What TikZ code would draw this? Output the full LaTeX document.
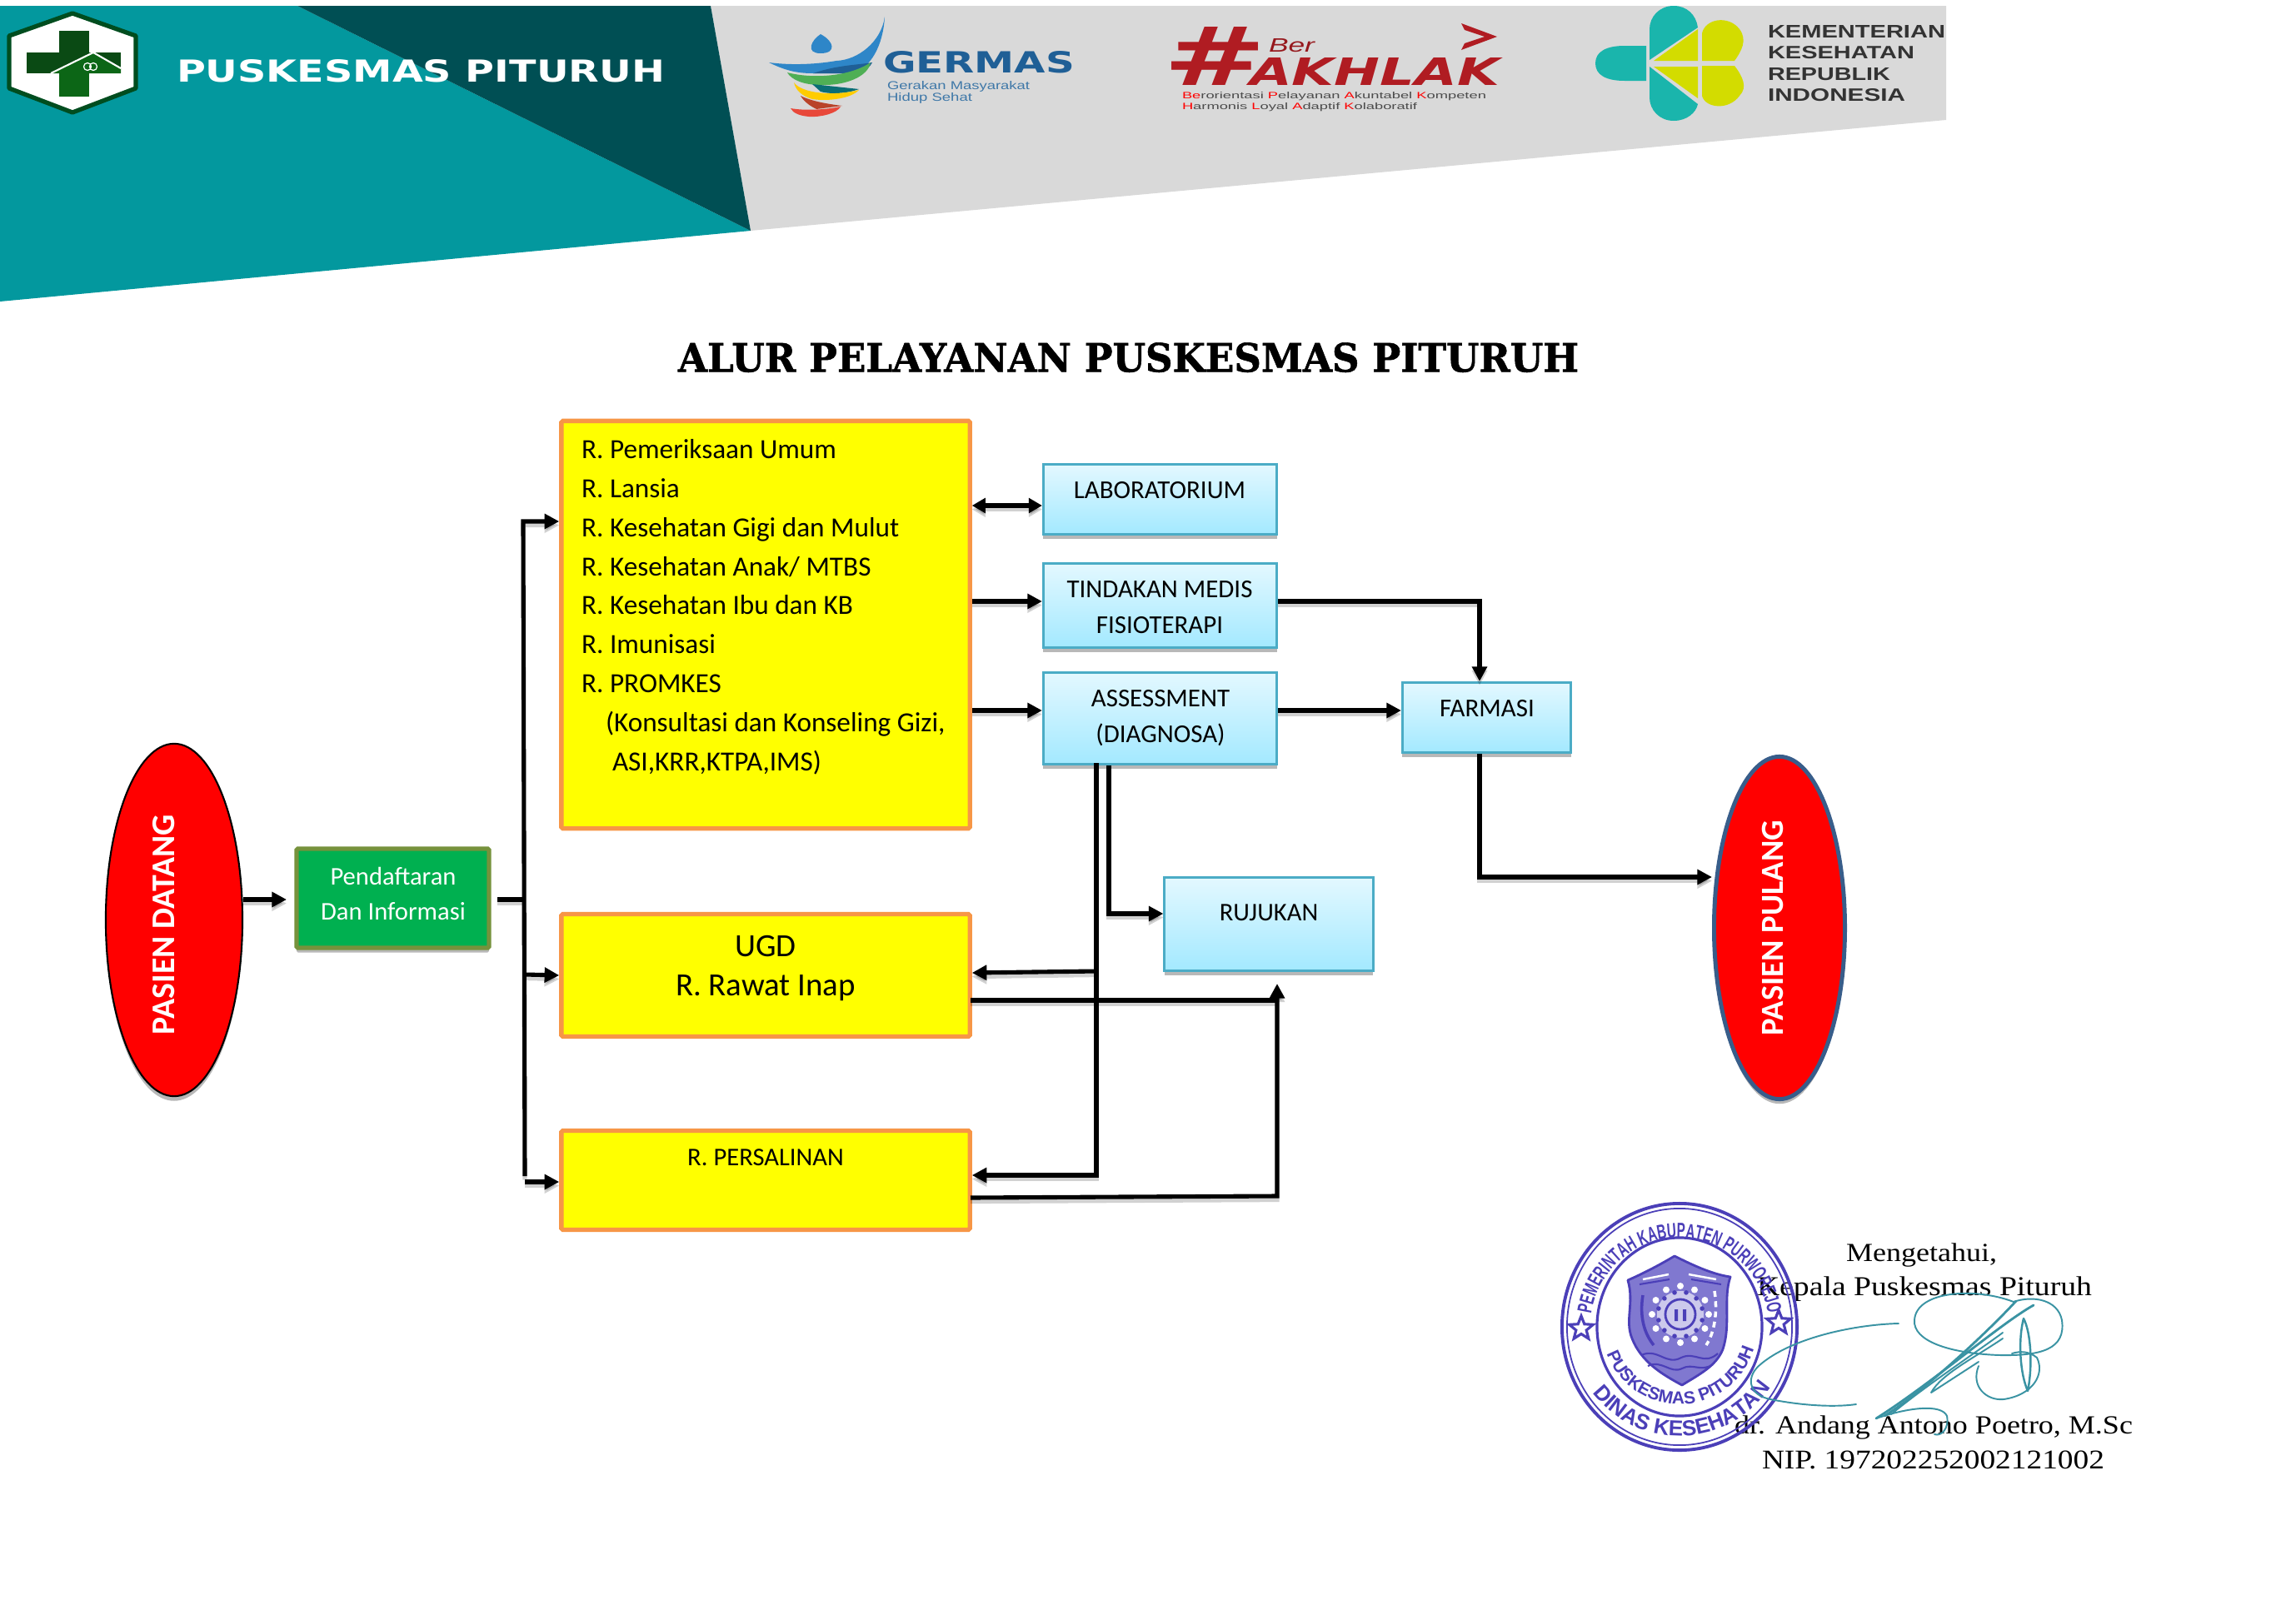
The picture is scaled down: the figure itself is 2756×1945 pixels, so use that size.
\documentclass[tikz,border=0pt]{standalone}
\usepackage{fontspec}
\usepackage{graphicx}
\usetikzlibrary{arrows.meta,calc,shadows,shapes.geometric,decorations.text}
\setmainfont{Carlito}
\newfontfamily\headf{Liberation Sans}
\newfontfamily\heavyf{DejaVu Sans}
\newfontfamily\titlef[BoldFeatures={FakeBold=1.2}]{DejaVu Serif}
\newfontfamily\sigf[FakeStretch=1.15]{Liberation Serif}
\newfontfamily\stampN[FakeStretch=0.62,BoldFeatures={FakeStretch=0.62}]{Liberation Sans}
\newfontfamily\stampW{Liberation Sans}
\newdimen\px \px=0.01cm
\newcommand\fitw[2]{\resizebox{\dimexpr#1\px\relax}{!}{#2}}
\newcommand\fitwh[3]{\resizebox{\dimexpr#1\px\relax}{\dimexpr#2\px\relax}{#3}}
\newcommand\fsz[1]{\fontsize{#1}{#1}\selectfont}
\definecolor{hteal}{HTML}{03989E}
\definecolor{hdark}{HTML}{004F54}
\definecolor{hgray}{HTML}{D9D9D9}
\definecolor{orangeB}{HTML}{F79646}
\definecolor{yellowF}{HTML}{FFFF00}
\definecolor{redF}{HTML}{FF0000}
\definecolor{greenF}{HTML}{00B050}
\definecolor{greenB}{HTML}{76923C}
\definecolor{blueB}{HTML}{4BACC6}
\definecolor{blueT}{HTML}{E3F8FF}
\definecolor{blueM}{HTML}{A3E9FF}
\definecolor{pulB}{HTML}{385D8A}
\definecolor{lgD}{HTML}{004D1F}
\definecolor{lgA}{HTML}{0A4A14}
\definecolor{lgB}{HTML}{0C6616}
\definecolor{gblue}{HTML}{1F5F96}
\definecolor{gblueL}{HTML}{2E86C8}
\definecolor{gtext}{HTML}{3F78A8}
\definecolor{ggreen}{HTML}{4FAF55}
\definecolor{gteal}{HTML}{0B6E75}
\definecolor{gyel}{HTML}{FFCC00}
\definecolor{gbrown}{HTML}{B9432A}
\definecolor{gred}{HTML}{E8483A}
\definecolor{ared}{HTML}{B01C22}
\definecolor{kteal}{HTML}{1AB5AC}
\definecolor{klime}{HTML}{D3DC00}
\definecolor{ktext}{HTML}{333333}
\definecolor{stampc}{HTML}{4B3FB8}
\definecolor{stampf}{HTML}{8078D0}
\definecolor{signc}{HTML}{3A93A3}
\tikzset{
  lbl/.style={inner sep=0pt,outer sep=0pt},
  softshadow/.style={drop shadow={shadow xshift=0pt,shadow yshift=-1.6pt,opacity=.28,fill=black}},
  ybox/.style={rectangle,draw=orangeB,fill=yellowF,line width=1.5pt,rounded corners=.5pt},
  gbox/.style={rectangle,draw=greenB,fill=greenF,line width=1.5pt,rounded corners=.5pt,softshadow},
  bbox/.style={rectangle,draw=blueB,top color=blueT,bottom color=blueM,line width=.85pt,softshadow},
  conn/.style={draw=black,line width=1.45pt,line join=miter,
    preaction={draw=black,opacity=.18,line width=1.45pt,transform canvas={yshift=-1.3pt}}},
  arr/.style={conn,-{Triangle[length=5pt,width=5pt]}},
  darr/.style={conn,{Triangle[length=4.6pt,width=5pt]}-{Triangle[length=4.6pt,width=5pt]}},
  txt/.style={lbl,anchor=base,text=black},
  ltxt/.style={lbl,anchor=base west,text=black,font=\fsz{9.45}},
  sign/.style={draw=signc,line width=.55pt,line cap=round,line join=round},
}
\begin{document}
\begin{tikzpicture}[x=0.01cm,y=-0.01cm]
\useasboundingbox (0,0) rectangle (2756,1945);
\fill[white] (0,0) rectangle (2756,1945);
% header
\fill[hgray] (853,7)--(2336,7)--(2336,144)--(901,277)--cycle;
\fill[hteal] (0,7)--(357,7)--(901,277)--(0,362)--cycle;
\fill[hdark] (357,7)--(853,7)--(901,277)--cycle;
% puskesmas logo
\draw[fill=white,draw=lgD,line width=1.5pt,line join=round] (87,16)--(163,43)--(163,106)--(87,135)--(11,106)--(11,43)--cycle;
\fill[lgA] (71,37) rectangle (107,63);
\fill[lgA] (32,63) rectangle (145,88);
\fill[lgB] (71,88) rectangle (107,116);
\fill[lgB] (61,88)--(112,63)--(145,82)--(145,88)--cycle;
\draw[white,line width=.6pt] (61,88)--(112,63)--(145,82);
\draw[white,line width=.35pt] (105,80) circle (.045cm) (112,80) circle (.045cm);
\node[lbl,anchor=south west,text=white] (hname) at (212,99) {\fitwh{586}{27}{\heavyf\bfseries PUSKESMAS PITURUH}};
% germas logo
\fill[gblueL] (1062,20) .. controls (1058,50) and (1030,72) .. (1004,73) .. controls (975,78) and (945,78) .. (923,75) .. controls (945,86) and (960,88) .. (976,88) -- (1023,88) .. controls (1045,82) and (1060,55) .. (1062,20) -- cycle;
\fill[gblue] (976,88) .. controls (1005,78) and (1030,78) .. (1047,75) .. controls (1042,85) and (1030,88) .. (1023,88) -- cycle;
\fill[gblueL] (985,41) .. controls (974,48) and (966,64) .. (985,64) .. controls (1004,64) and (1002,50) .. (985,41) -- cycle;
\fill[ggreen] (945,87) .. controls (975,95) and (1020,92) .. (1045,75) .. controls (1042,92) and (1015,103) .. (985,102) .. controls (965,102) and (950,96) .. (945,87) -- cycle;
\fill[gteal] (975,101) -- (1031,107) .. controls (1015,113) and (995,113) .. (985,110) -- cycle;
\fill[gyel] (953,99) .. controls (962,112) and (1000,116) .. (1031,108) .. controls (1022,118) and (995,122) .. (975,119) .. controls (962,115) and (955,108) .. (953,99) -- cycle;
\fill[gbrown] (961,115) .. controls (975,122) and (995,125) .. (1011,127) -- (980,131) .. controls (972,127) and (965,122) .. (961,115) -- cycle;
\fill[gred] (949,130) .. controls (965,133) and (990,132) .. (1009,128) .. controls (1005,136) and (985,141) .. (971,140) .. controls (960,139) and (952,136) .. (949,130) -- cycle;
\node[lbl,anchor=south west,text=gblue] (germas) at (1060,88) {\fitwh{230}{26}{\heavyf\bfseries GERMAS}};
\node[lbl,anchor=base west,text=gtext] (germasA) at (1065,107) {\fitwh{171}{10}{\headf Gerakan Masyarakat}};
\node[lbl,anchor=base west,text=gtext] (germasB) at (1065,121) {\fitwh{102}{10}{\headf Hidup Sehat}};
% akhlak
\node[lbl,anchor=south west,text=ared] (hash) at (1396,102) {\fitwh{124}{70}{\heavyf\bfseries\#}};
\node[lbl,anchor=south west,text=ared!85!black] (ber) at (1523,63) {\fitwh{55}{16}{\headf\itshape Ber}};
\fill[ared] (1754,28)--(1797,44)--(1754,60)--(1758,52)--(1782,44)--(1758,36)--cycle;
\node[lbl,anchor=south west,text=ared] (akhlak) at (1500,102) {\fitwh{300}{33}{\heavyf\bfseries\itshape AKHLAK}};
\node[lbl,anchor=base west,text=black!70] (akA) at (1419,118) {\fitwh{365}{8}{\headf\textcolor{red}{Be}rorientasi \textcolor{red}{P}elayanan \textcolor{red}{A}kuntabel \textcolor{red}{K}ompeten}};
\node[lbl,anchor=base west,text=black!70] (akB) at (1419,131) {\fitwh{282}{8}{\headf\textcolor{red}{H}armonis \textcolor{red}{L}oyal \textcolor{red}{A}daptif \textcolor{red}{K}olaboratif}};
% kemenkes logo
\fill[kteal] (2009,7) .. controls (1992,7) and (1980,20) .. (1980,35) -- (1980,72) -- (2038,33) .. controls (2036,18) and (2025,7) .. (2009,7) -- cycle;
\fill[kteal] (2009,145) .. controls (1992,145) and (1980,132) .. (1980,117) -- (1980,80) -- (2038,125) .. controls (2036,135) and (2025,145) .. (2009,145) -- cycle;
\fill[kteal] (1976,55) -- (1950,55) .. controls (1928,55) and (1915,62) .. (1915,76) .. controls (1915,90) and (1928,97) .. (1950,97) -- (1976,97) -- cycle;
\fill[klime] (1985,73) -- (2038,35) -- (2038,73) -- cycle;
\fill[klime] (1985,80) -- (2038,80) -- (2038,118) -- cycle;
\fill[klime] (2043,73) -- (2043,40) .. controls (2047,22) and (2075,18) .. (2088,35) .. controls (2098,48) and (2090,62) .. (2082,73) -- cycle;
\fill[klime] (2043,79) -- (2082,79) .. controls (2092,92) and (2098,105) .. (2088,115) .. controls (2075,133) and (2047,130) .. (2043,115) -- cycle;
\node[lbl,anchor=south west,text=ktext] (kemA) at (2122,45) {\fitwh{213}{15}{\headf\bfseries KEMENTERIAN}};
\node[lbl,anchor=south west,text=ktext] (kemB) at (2122,71) {\fitwh{176}{15}{\headf\bfseries KESEHATAN}};
\node[lbl,anchor=south west,text=ktext] (kemC) at (2122,97) {\fitwh{147}{15}{\headf\bfseries REPUBLIK}};
\node[lbl,anchor=south west,text=ktext] (kemD) at (2122,122) {\fitwh{165}{15}{\headf\bfseries INDONESIA}};
% title
\node[lbl,anchor=south west] (title) at (814,447) {\fitwh{1081}{35}{\titlef\bfseries ALUR PELAYANAN PUSKESMAS PITURUH}};
% shapes
\node[ellipse,draw=black,fill=redF,line width=.6pt,minimum width=1.64cm,minimum height=4.23cm,inner sep=0pt,softshadow] (datang) at (209,1104.5) {};
\node[ellipse,draw=pulB,fill=redF,line width=1.4pt,minimum width=1.57cm,minimum height=4.11cm,inner sep=0pt,softshadow] (pulang) at (2136,1114) {};
\node[gbox,minimum width=2.31cm,minimum height=1.19cm] (daftar) at (471.5,1078.5) {};
\node[ybox,minimum width=4.90cm,minimum height=4.89cm] (umum) at (919,750) {};
\node[ybox,minimum width=4.90cm,minimum height=1.47cm] (ugd) at (919,1171) {};
\node[ybox,minimum width=4.90cm,minimum height=1.19cm] (salin) at (919,1417) {};
\node[bbox,minimum width=2.80cm,minimum height=.84cm] (lab) at (1392.5,599.5) {};
\node[bbox,minimum width=2.80cm,minimum height=1.01cm] (tind) at (1392.5,727) {};
\node[bbox,minimum width=2.80cm,minimum height=1.10cm] (asses) at (1392.5,862.5) {};
\node[bbox,minimum width=2.02cm,minimum height=.84cm] (farm) at (1784.5,861.5) {};
\node[bbox,minimum width=2.50cm,minimum height=1.12cm] (ruj) at (1523,1109.5) {};
% texts
\node[lbl,text=white,rotate=90,font=\bfseries] (datangT) at (197,1110) {\fitw{264}{PASIEN DATANG}};
\node[lbl,text=white,rotate=90,font=\bfseries] (pulangT) at (2128,1114) {\fitw{258}{PASIEN PULANG}};
\node[txt,text=white,font=\fsz{8.7}] (dA) at (472,1062) {Pendaftaran};
\node[txt,text=white,font=\fsz{8.7}] (dB) at (472,1104) {Dan Informasi};
\node[ltxt] (u1) at (698,550) {R. Pemeriksaan Umum};
\node[ltxt] (u2) at (698,597) {R. Lansia};
\node[ltxt] (u3) at (698,644) {R. Kesehatan Gigi dan Mulut};
\node[ltxt] (u4) at (698,691) {R. Kesehatan Anak/ MTBS};
\node[ltxt] (u5) at (698,737) {R. Kesehatan Ibu dan KB};
\node[ltxt] (u6) at (698,784) {R. Imunisasi};
\node[ltxt] (u7) at (698,831) {R. PROMKES};
\node[ltxt] (u8) at (727,878) {(Konsultasi dan Konseling Gizi,};
\node[ltxt] (u9) at (735,925) {ASI,KRR,KTPA,IMS)};
\node[txt,font=\fsz{11.05}] (ugdA) at (919,1148) {UGD};
\node[txt,font=\fsz{11.05}] (ugdB) at (919,1195) {R. Rawat Inap};
\node[txt,font=\fsz{8.7}] (salinT) at (919,1399) {R. PERSALINAN};
\node[txt,font=\fsz{8.8}] (labT) at (1392,598) {LABORATORIUM};
\node[txt,font=\fsz{8.8}] (tindA) at (1392,717) {TINDAKAN MEDIS};
\node[txt,font=\fsz{8.8}] (tindB) at (1392,760) {FISIOTERAPI};
\node[txt,font=\fsz{8.8}] (assA) at (1393,848) {ASSESSMENT};
\node[txt,font=\fsz{8.8}] (assB) at (1393,891) {(DIAGNOSA)};
\node[txt,font=\fsz{8.8}] (farmT) at (1785,860) {FARMASI};
\node[txt,font=\fsz{8.7}] (rujT) at (1523,1105) {RUJUKAN};
% connector helper coordinates
\coordinate (yMain) at (0,1080);
\coordinate (yLab) at (0,607);
\coordinate (yTind) at (0,722);
\coordinate (yAss) at (0,853);
\coordinate (busTop) at (628,626);
\coordinate (busEnd) at (630,1412);
\coordinate (busUgd) at (630,1170);
\coordinate (busSal) at (630,1419);
\coordinate (stub) at (597,1080);
\coordinate (busMid) at (629,1080);
\coordinate (arrEnd) at (344,1080);
\coordinate (tfCorner) at (1776,722);
\coordinate (fpCorner) at (1776,1053);
\coordinate (dropA) at (1316,916);
\coordinate (dropAugd) at (1316,1166);
\coordinate (yUgdIn) at (0,1168);
\coordinate (dropAsal) at (1316,1411);
\coordinate (dropB) at (1331,919);
\coordinate (dropBc) at (1331,1097);
\coordinate (upTop) at (1533,1181);
\coordinate (upUgd) at (1533,1201);
\coordinate (upSal) at (1533,1436);
\coordinate (ugdOut) at (1165,1201);
\coordinate (salOut) at (1165,1438);
% connectors
\draw[arr] (datang.east |- yMain) -- (arrEnd);
\draw[conn] (stub) -- (busMid);
\draw[arr] (busEnd) -- (busTop) -- (umum.west |- busTop);
\draw[arr] (busUgd) -- (ugd.west);
\draw[arr] (busSal) -- (salin.west |- busSal);
\draw[darr] (umum.east |- yLab) -- (lab.west |- yLab);
\draw[arr] (umum.east |- yTind) -- (tind.west |- yTind);
\draw[arr] (umum.east |- yAss) -- (asses.west |- yAss);
\draw[arr] (tind.east |- yTind) -- (tfCorner) -- (farm.north -| tfCorner);
\draw[arr] (asses.east |- yAss) -- (farm.west |- yAss);
\draw[arr] (farm.south -| fpCorner) -- (fpCorner) -- (pulang.west |- fpCorner);
\draw[arr] (dropA) -- (dropAsal) -- (salin.east |- dropAsal);
\draw[arr] (dropAugd) -- (ugd.east |- yUgdIn);
\draw[arr] (dropB) -- (dropBc) -- (ruj.west |- dropBc);
\draw[conn] (ugdOut) -- (upUgd);
\draw[arr] (salOut) -- (upSal) -- (upTop);
% signature text
\node[lbl,anchor=base west] (sA) at (2216,1514) {\fitw{181}{\sigf Mengetahui,}};
\node[lbl,anchor=base west] (sB) at (2109,1555) {\fitw{402}{\sigf Kepala Puskesmas Pituruh}};
\node[lbl,anchor=base west] (sC) at (2082,1721) {\fitw{478}{\sigf dr. Andang Antono Poetro, M.Sc}};
\node[lbl,anchor=base west] (sD) at (2115,1763) {\fitw{411}{\sigf NIP. 197202252002121002}};
% stamp
\coordinate (S) at (2016,1593);
\draw[stampc,line width=1.1pt] (S) ellipse [x radius=1.41cm,y radius=1.48cm];
\draw[stampc,line width=.5pt] (S) ellipse [x radius=1.35cm,y radius=1.42cm];
\draw[stampc,line width=.9pt] (S) ellipse [x radius=.99cm,y radius=1.07cm];
\path[decorate,decoration={text along path,text align=center,text={|\color{stampc}\stampN\bfseries\fsz{7}|PEMERINTAH KABUPATEN PURWOREJO}}] ($(S)+(176:1.07cm)$) arc[start angle=176,end angle=4,radius=1.07cm];
\path[decorate,decoration={text along path,text align=center,text={|\color{stampc}\stampW\bfseries\fsz{7.4}|DINAS KESEHATAN}}] ($(S)+(212:1.31cm)$) arc[start angle=212,end angle=332,radius=1.31cm];
\path[decorate,decoration={text along path,text align=center,text={|\color{stampc}\stampW\bfseries\fsz{6}|PUSKESMAS PITURUH}}] ($(S)+(194:.93cm)$) arc[start angle=194,end angle=350,radius=.93cm];
\node[star,star points=5,star point ratio=2.3,draw=stampc,line width=.9pt,fill=white,minimum size=.3cm,inner sep=0pt] (starL) at (1898,1595) {};
\node[star,star points=5,star point ratio=2.3,draw=stampc,line width=.9pt,fill=white,minimum size=.3cm,inner sep=0pt] (starR) at (2135,1588) {};
\draw[stampc,fill=stampf,line width=.8pt,line join=round] (2010,1508) .. controls (1990,1520) and (1970,1530) .. (1954,1537) .. controls (1962,1565) and (1950,1585) .. (1959,1607) .. controls (1970,1635) and (1995,1650) .. (2019,1663) .. controls (2040,1650) and (2060,1640) .. (2068,1620) .. controls (2078,1590) and (2068,1560) .. (2077,1533) .. controls (2055,1530) and (2030,1518) .. (2010,1508) -- cycle;
\coordinate (SC) at (2017,1578);
\fill[white,opacity=.6] (SC) circle (.28cm);
\draw[stampc,line width=.8pt] (SC) circle (.18cm);
\foreach \a in {0,30,...,330} \fill[white] ($(SC)+(\a:.34cm)$) circle (.04cm);
\foreach \a in {15,45,...,345} \fill[stampc] ($(SC)+(\a:.27cm)$) circle (.028cm);
\fill[stampc] (2010,1572) rectangle (2014,1586) (2020,1572) rectangle (2024,1586);
\draw[white,line width=.7pt] (1972,1536) -- (2003,1530) (2027,1530) -- (2060,1536);
\draw[stampc,line width=.6pt] (1968,1542) -- (2004,1536) (2030,1536) -- (2066,1542);
\draw[stampc,line width=.6pt] (1970,1627) .. controls (1990,1618) and (2000,1640) .. (2018,1630) .. controls (2035,1622) and (2045,1640) .. (2062,1625);
\draw[stampc,line width=.6pt] (1978,1640) .. controls (1995,1632) and (2005,1650) .. (2019,1643) .. controls (2032,1636) and (2042,1648) .. (2056,1638);
\draw[stampc,line width=1pt] (1972,1555) .. controls (1968,1580) and (1973,1600) .. (1985,1615);
\draw[white,line width=1pt,dash pattern=on 2pt off 1.5pt] (2058,1550) .. controls (2062,1575) and (2058,1600) .. (2048,1615);
% signature
\draw[sign] (2279,1589) .. controls (2230,1590) and (2150,1605) .. (2111,1640) .. controls (2095,1655) and (2100,1675) .. (2125,1680) .. controls (2160,1687) and (2200,1690) .. (2228,1686);
\draw[sign] (2417,1563) .. controls (2370,1545) and (2300,1550) .. (2298,1585) .. controls (2296,1610) and (2340,1625) .. (2400,1627) .. controls (2450,1628) and (2480,1620) .. (2475,1585) .. controls (2470,1560) and (2440,1555) .. (2417,1563);
\draw[sign,line width=.8pt] (2441,1567) .. controls (2400,1590) and (2320,1660) .. (2252,1703);
\draw[sign,line width=.8pt] (2420,1562) .. controls (2385,1600) and (2310,1670) .. (2262,1700);
\draw[sign] (2404,1600) .. controls (2370,1625) and (2310,1665) .. (2270,1698);
\draw[sign] (2404,1607) .. controls (2370,1630) and (2330,1650) .. (2318,1672) -- (2375,1635);
\draw[sign,line width=.7pt] (2429,1583) .. controls (2422,1610) and (2425,1650) .. (2434,1670) .. controls (2440,1640) and (2438,1600) .. (2429,1583);
\draw[sign] (2375,1640) .. controls (2365,1665) and (2385,1682) .. (2405,1680) .. controls (2440,1675) and (2455,1650) .. (2445,1630) .. controls (2435,1622) and (2425,1622) .. (2415,1625);
\draw[sign] (2252,1703) .. controls (2290,1690) and (2330,1685) .. (2337,1700) .. controls (2340,1715) and (2330,1725) .. (2322,1722);
\end{tikzpicture}
\end{document}
